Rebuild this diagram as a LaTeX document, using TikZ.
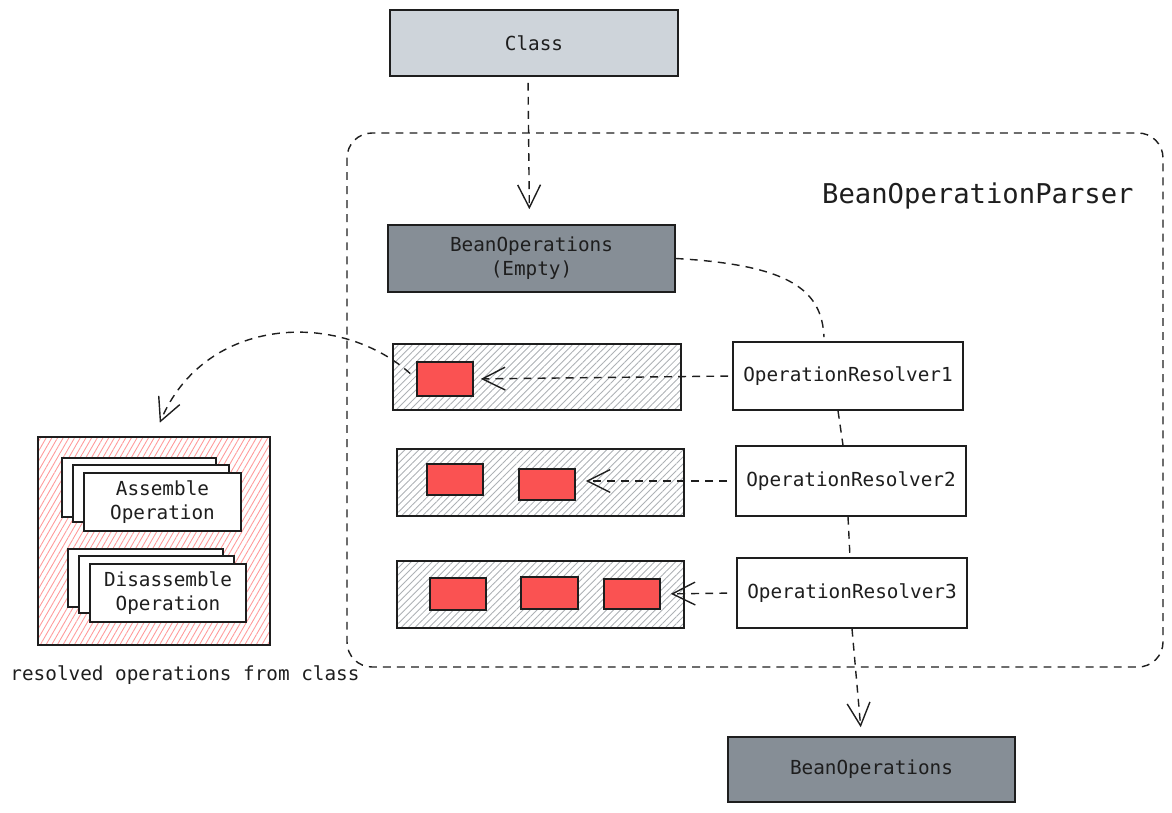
\documentclass[tikz,border=0pt]{standalone}
\usepackage{fontspec}
\setmonofont{DejaVu Sans Mono}
\usetikzlibrary{arrows.meta,patterns.meta}

\definecolor{ink}{HTML}{1E1E1E}
\definecolor{lightfill}{HTML}{CED4DA}
\definecolor{darkfill}{HTML}{868E96}
\definecolor{redfill}{HTML}{FA5252}
\definecolor{hatchgray}{HTML}{ADB1B5}
\definecolor{hatchpink}{HTML}{FF9A9A}

\tikzset{
  sz/.style 2 args={minimum width=#1*0.02cm, minimum height=#2*0.02cm},
  txt/.style={font=\ttfamily\fontsize{11}{13.5}\selectfont, text=ink, align=center},
  boxbase/.style={draw=ink, line width=0.9pt, inner sep=0pt, txt},
  lightbox/.style={boxbase, fill=lightfill},
  darkbox/.style={boxbase, fill=darkfill},
  plainbox/.style={boxbase, fill=white},
  hatchbox/.style={boxbase, pattern={Lines[angle=45,distance=2.8pt,line width=0.5pt]}, pattern color=hatchgray},
  pinkbox/.style={boxbase, pattern={Lines[angle=60,distance=2.8pt,line width=0.5pt]}, pattern color=hatchpink},
  opbox/.style={draw=ink, line width=0.9pt, fill=redfill, inner sep=0pt},
  card/.style={boxbase, fill=white},
  link/.style={draw=ink, line width=0.8pt, dash pattern=on 4.5pt off 3.5pt},
  arr/.style={link, -{Straight Barb[length=13pt,width=13pt,line width=0.8pt]}},
}

\begin{document}
\begin{tikzpicture}[x=0.02cm, y=-0.02cm]
\useasboundingbox (0,0) rectangle (1172,813);

% parser frame
\draw[link, rounded corners=0.5cm] (347,133) rectangle (1163,667);
\node[font=\ttfamily\fontsize{15.5}{18}\selectfont, text=ink, anchor=east, inner sep=0pt] (title) at (1134,196) {BeanOperationParser};

% input and output
\node[lightbox, sz={288}{66}] (cls) at (534,43) {Class};
\node[darkbox, sz={287}{67}] (empty) at (531.5,258.5) {BeanOperations\\(Empty)};
\node[darkbox, sz={287}{65}] (result) at (871.5,769.5) {BeanOperations};

% resolvers
\node[plainbox, sz={230}{68}] (res1) at (848,376) {OperationResolver1};
\node[plainbox, sz={230}{70}] (res2) at (851,481) {OperationResolver2};
\node[plainbox, sz={230}{70}] (res3) at (852,593) {OperationResolver3};

% operation lists
\node[hatchbox, sz={288}{66}] (list1) at (537,377) {};
\node[hatchbox, sz={287}{67}] (list2) at (540.5,482.5) {};
\node[hatchbox, sz={287}{67}] (list3) at (540.5,594.5) {};

\node[opbox, sz={56}{34}] (op1a) at (445,379) {};
\node[opbox, sz={56}{31}] (op2a) at (455,479.5) {};
\node[opbox, sz={56}{31}] (op2b) at (547,484.5) {};
\node[opbox, sz={56}{32}] (op3a) at (458,594) {};
\node[opbox, sz={57}{32}] (op3b) at (549.5,593) {};
\node[opbox, sz={56}{30}] (op3c) at (632,594) {};

% resolved operations
\node[pinkbox, sz={232}{208}] (ops) at (154,541) {};
\node[card, sz={154}{59}] (asm1) at (139,487.5) {};
\node[card, sz={156}{57}] (asm2) at (151,493.5) {};
\node[card, sz={157}{58}] (asm3) at (162.5,502) {Assemble\\Operation};
\node[card, sz={155}{58}] (dis1) at (145.5,578) {};
\node[card, sz={155}{57}] (dis2) at (156.5,584.5) {};
\node[card, sz={156}{58}] (dis3) at (168,593) {Disassemble\\Operation};
\node[txt, inner sep=0pt] (opslabel) at (185,675) {resolved operations from class};

% connectors
\draw[arr, shorten <=6*0.02cm, shorten >=15*0.02cm] ([xshift=-6*0.02cm]cls.south) -- ([xshift=-2*0.02cm]empty.north);
\draw[link] (empty.east) .. controls (790,265) and (822,290) .. ([shift={(-24,-4)}]res1.north);
\draw[arr, shorten <=4*0.02cm, shorten >=7*0.02cm] (res1.west) -- (op1a.east);
\draw[arr, shorten <=8*0.02cm, shorten >=10*0.02cm] (res2.west) -- (op2b.east |- res2.west);
\draw[arr, shorten <=9*0.02cm, shorten >=10*0.02cm] (res3.west) -- (op3c.east);
\draw[link] ([xshift=-10*0.02cm]res1.south) -- ([xshift=-8*0.02cm]res2.north);
\draw[link] ([xshift=-3*0.02cm]res2.south) -- ([xshift=-2*0.02cm]res3.north);
\draw[arr, shorten >=9*0.02cm] (res3.south) -- ([xshift=-10*0.02cm]result.north);
\draw[arr, shorten <=8*0.02cm, shorten >=15*0.02cm] (op1a.west) .. controls (340,310) and (205,315) .. (ops.north);
\end{tikzpicture}
\end{document}
